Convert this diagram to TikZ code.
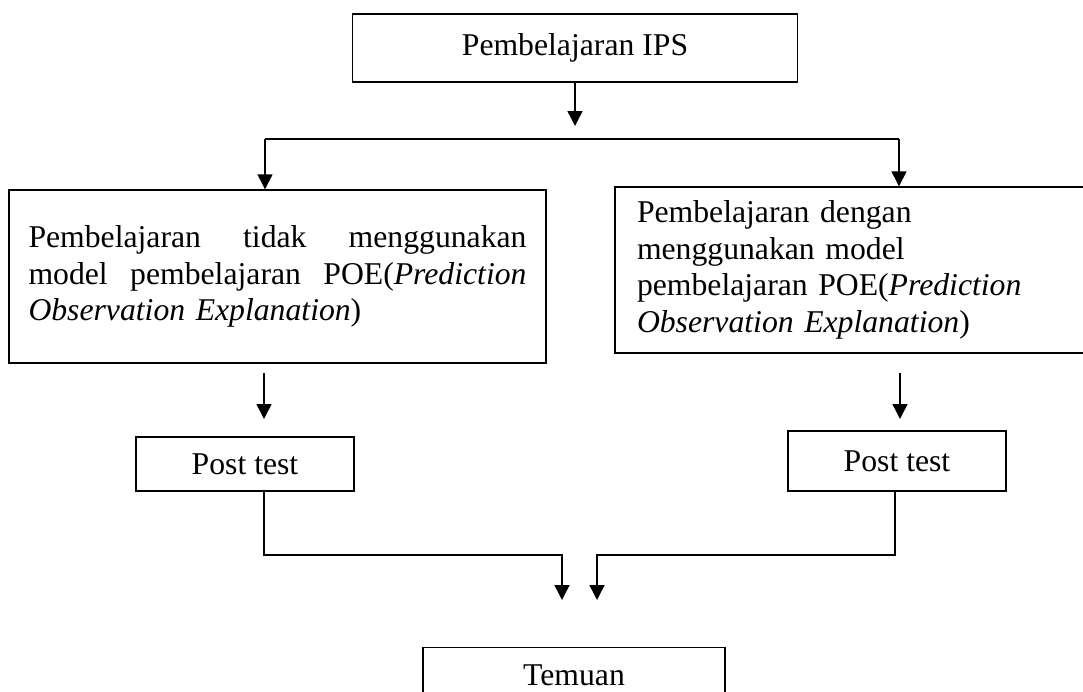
\documentclass[tikz,border=0pt]{standalone}
\usepackage{fontspec}
\setmainfont{Liberation Serif}
\usetikzlibrary{arrows.meta}
\begin{document}
\begin{tikzpicture}[x=1pt,y=-1pt,
  box/.style={draw, line width=1.4pt, inner sep=0pt, align=center},
  ln/.style={line width=1.4pt},
  arr/.style={line width=1.4pt, -{Triangle[width=15pt,length=15pt]}},
  font=\fontsize{31.7}{36.5}\selectfont]
\useasboundingbox (0,0) rectangle (1083,691);
\fill[white] (0,0) rectangle (1083,691);
% boxes
\node[box, minimum width=445pt, minimum height=68pt] (top) at (575,48) {Pembelajaran IPS};
\node[box, minimum width=537pt, minimum height=173pt, text width=498pt, align=left] (left) at (277.5,276.5)
  {Pembelajaran\hfill tidak\hfill menggunakan\\
   model\hfill pembelajaran\hfill POE(\textit{Prediction}\\
   \textit{Observation Explanation})};
\node[box, minimum width=485pt, minimum height=166pt, text width=441pt, align=left] (right) at (857.5,270)
  {Pembelajaran dengan\\
   menggunakan model\\
   pembelajaran POE(\textit{Prediction}\\
   \textit{Observation Explanation})};
\node[box, minimum width=218pt, minimum height=54pt] (lp) at (245,464) {Post test};
\node[box, minimum width=218pt, minimum height=60pt] (rp) at (897,461) {Post test};
\node[box, anchor=north, minimum width=302pt, inner ysep=17pt, text height=21pt, text depth=30pt] (tem) at (574,647) {Temuan};
% coordinates
\coordinate (a1) at (575,126);
\coordinate (jl) at (265,139);
\coordinate (jr) at (899,139);
\coordinate (l1) at (264,373);
\coordinate (l2) at (264,419);
\coordinate (r1) at (900,373);
\coordinate (r2) at (900,419);
\coordinate (lc) at (264,555);
\coordinate (lm) at (562,555);
\coordinate (le) at (562,600);
\coordinate (rc) at (895,555);
\coordinate (rm) at (597,555);
\coordinate (re) at (597,600);
% connectors
\draw[arr] (top.south -| a1) -- (a1);
\draw[ln] (jl) -- (jr);
\draw[arr] (jl) -- (jl |- left.north);
\draw[arr] (jr) -- (jr |- right.north);
\draw[arr] (l1) -- (l2);
\draw[arr] (r1) -- (r2);
\draw[arr] (lp.south -| lc) -- (lc) -- (lm) -- (le);
\draw[arr] (rp.south -| rc) -- (rc) -- (rm) -- (re);
\end{tikzpicture}
\end{document}
